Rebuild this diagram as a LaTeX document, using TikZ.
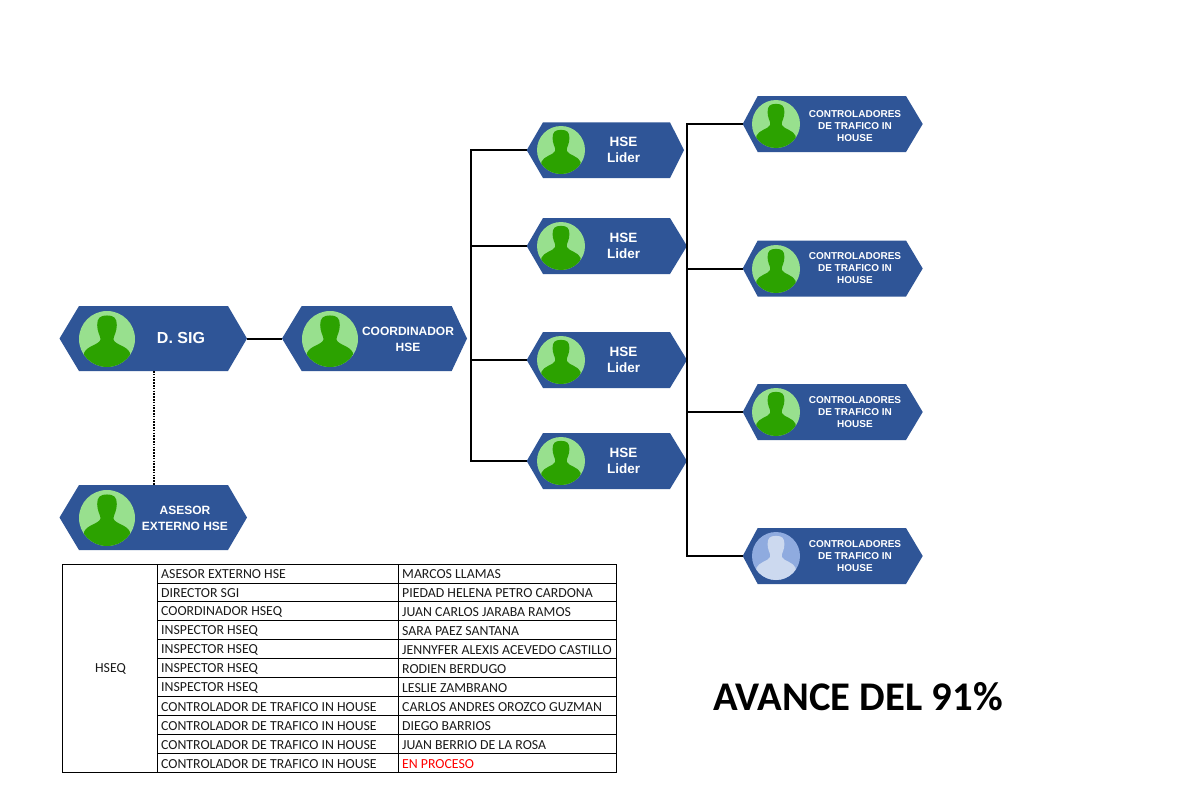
\documentclass[tikz,border=0pt]{standalone}
\usepackage{fontspec}
\setmainfont{Liberation Sans}
\newfontfamily\tabfont{Carlito}
\definecolor{cardblue}{HTML}{2F5597}
\definecolor{disc}{HTML}{98E08E}
\definecolor{figure}{HTML}{2CA200}
\definecolor{discoff}{HTML}{8FABDF}
\definecolor{figureoff}{HTML}{CCD9EF}
\definecolor{tabtext}{HTML}{1A1A1A}
\tikzset{
  cardfill/.style={fill=cardblue,draw=none},
  cardanchor/.style={inner sep=0pt,outer sep=0pt,rectangle,draw=none},
  cardtext/.style={text=white,font=\bfseries,align=center,inner sep=0pt},
  bigtext/.style={cardtext,font=\fontsize{16}{19}\selectfont\bfseries},
  midtext/.style={cardtext,font=\fontsize{12}{16}\selectfont\bfseries},
  lidertext/.style={cardtext,font=\fontsize{13.5}{16}\selectfont\bfseries},
  ctrltext/.style={cardtext,font=\fontsize{10}{11.7}\selectfont\bfseries},
  conn/.style={draw=black,line width=2pt,line join=miter},
  connthin/.style={draw=black,line width=1.5pt,line join=miter},
  dotconn/.style={draw=black,line width=2pt,dash pattern=on 1.6pt off 1.2pt},
  tabline/.style={draw=black,line width=0.9pt},
  tabcell/.style={anchor=west,inner sep=0pt,text=tabtext,font=\tabfont\fontsize{13.8}{15}\selectfont},
  avance/.style={anchor=center,inner sep=0pt,font=\tabfont\fontsize{40.7}{44}\selectfont\bfseries},
}
% name, tipL, topL, topR, tipR, top, bottom
\newcommand{\hexcard}[7]{%
  \pgfmathsetmacro{\hcx}{(#2+#5)/2}\pgfmathsetmacro{\hcy}{(#6+#7)/2}%
  \pgfmathsetmacro{\hcw}{#5-#2}\pgfmathsetmacro{\hch}{#7-#6}%
  \fill[cardfill] (#2,\hcy) -- (#3,#6) -- (#4,#6) -- (#5,\hcy) -- (#4,#7) -- (#3,#7) -- cycle;
  \node[cardanchor,minimum width=\hcw pt,minimum height=\hch pt] (#1) at (\hcx,\hcy) {};
}
% cx, cy, r, disc colour, figure colour
\newcommand{\persona}[5]{%
  \begin{scope}[shift={(#1,#2)},x=#3pt,y=#3pt]
    \fill[#4] (0,0) circle (1);
    \begin{scope}
      \clip (0,0) circle (1);
      \fill[#5] (0,0.84) .. controls (0.26,0.84) and (0.35,0.74) .. (0.35,0.5)
        .. controls (0.35,0.28) and (0.26,0.14) .. (0.24,0.04) -- (0.24,-0.04)
        .. controls (0.3,-0.2) and (0.74,-0.26) .. (0.82,-0.5) -- (0.82,-1.1) -- (-0.82,-1.1) -- (-0.82,-0.5)
        .. controls (-0.74,-0.26) and (-0.3,-0.2) .. (-0.24,-0.04) -- (-0.24,0.04)
        .. controls (-0.26,0.14) and (-0.35,0.28) .. (-0.35,0.5)
        .. controls (-0.35,0.74) and (-0.26,0.84) .. (0,0.84) -- cycle;
    \end{scope}
  \end{scope}
}
\begin{document}
\begin{tikzpicture}[x=1pt,y=-1pt]
\useasboundingbox (0,0) rectangle (1179,806);
\fill[white] (0,0) rectangle (1179,806);

% cards
\hexcard{dsig}{59.5}{79}{228}{247}{306}{371}
\hexcard{coord}{282}{301.7}{451.7}{467}{306}{371}
\hexcard{asesor}{59.5}{79}{228}{247}{485}{550}
\hexcard{hsea}{526.7}{543}{670}{684}{122.3}{178}
\hexcard{hseb}{526.7}{543}{670}{687}{218}{274}
\hexcard{hsec}{526.7}{543}{670}{687}{332}{388}
\hexcard{hsed}{526.7}{543}{670}{687}{433}{489}
\hexcard{ctrla}{742.7}{757.7}{906}{922.7}{96}{152}
\hexcard{ctrlb}{742.7}{757.7}{906}{922.7}{240.5}{296.5}
\hexcard{ctrlc}{742.7}{757.7}{906}{922.7}{384}{440}
\hexcard{ctrld}{742.7}{757.7}{906}{922.7}{528}{584}

% people
\persona{107}{339}{28}{disc}{figure}
\persona{330}{339}{28}{disc}{figure}
\persona{107}{518}{28}{disc}{figure}
\persona{561}{150}{24}{disc}{figure}
\persona{561}{246}{24}{disc}{figure}
\persona{561}{360}{24}{disc}{figure}
\persona{561}{461}{24}{disc}{figure}
\persona{776}{124}{24}{disc}{figure}
\persona{776}{269}{24}{disc}{figure}
\persona{776}{412}{24}{disc}{figure}
\persona{776}{556}{24}{discoff}{figureoff}

% card labels
\node[bigtext] (tdsig) at (181,338) {D. SIG};
\node[midtext] (tcoord) at (408,339) {COORDINADOR\\HSE};
\node[midtext] (tasesor) at (185,518) {ASESOR\\EXTERNO HSE};
\node[lidertext] (thsea) at (623.5,150) {HSE\\Lider};
\node[lidertext] (thseb) at (623.5,246) {HSE\\Lider};
\node[lidertext] (thsec) at (623.5,360) {HSE\\Lider};
\node[lidertext] (thsed) at (623.5,461) {HSE\\Lider};
\node[ctrltext] (tctrla) at (855,126) {CONTROLADORES\\DE TRAFICO IN\\HOUSE};
\node[ctrltext] (tctrlb) at (855,268) {CONTROLADORES\\DE TRAFICO IN\\HOUSE};
\node[ctrltext] (tctrlc) at (855,412) {CONTROLADORES\\DE TRAFICO IN\\HOUSE};
\node[ctrltext] (tctrld) at (855,556) {CONTROLADORES\\DE TRAFICO IN\\HOUSE};

% connectors
\coordinate (trunka) at (471,150);
\coordinate (trunkb) at (687,124);
\draw[conn] (dsig.east) -- (coord.west);
\draw[dotconn] (dsig.south -| 154,0) -- (asesor.north -| 154,0);
\draw[connthin] (hsea.west) -- (trunka |- hsea.west) -- (trunka |- hsed.west) -- (hsed.west);
\draw[connthin] (trunka |- hseb.west) -- (hseb.west);
\draw[connthin] (trunka |- hsec.west) -- (hsec.west);
\draw[conn] (ctrla.west) -- (trunkb |- ctrla.west) -- (trunkb |- ctrld.west) -- (ctrld.west);
\draw[conn] (trunkb |- ctrlb.west) -- (ctrlb.west);
\draw[conn] (trunkb |- ctrlc.west) -- (ctrlc.west);

% table
\draw[tabline] (62,564) rectangle (616,772.5);
\draw[tabline] (157,564) -- (157,772.5);
\draw[tabline] (398,564) -- (398,772.5);
\foreach \i in {1,...,10} \draw[tabline] (157,564+\i*18.95) -- (616,564+\i*18.95);
\node[tabcell,anchor=center] (tabgroup) at (110.5,669) {HSEQ};
\foreach \i/\role/\who in {
  0/ASESOR EXTERNO HSE/MARCOS LLAMAS,
  1/DIRECTOR SGI/PIEDAD HELENA PETRO CARDONA,
  2/COORDINADOR HSEQ/JUAN CARLOS JARABA RAMOS,
  3/INSPECTOR HSEQ/SARA PAEZ SANTANA,
  4/INSPECTOR HSEQ/JENNYFER ALEXIS ACEVEDO CASTILLO,
  5/INSPECTOR HSEQ/RODIEN BERDUGO,
  6/INSPECTOR HSEQ/LESLIE ZAMBRANO,
  7/CONTROLADOR DE TRAFICO IN HOUSE/CARLOS ANDRES OROZCO GUZMAN,
  8/CONTROLADOR DE TRAFICO IN HOUSE/DIEGO BARRIOS,
  9/CONTROLADOR DE TRAFICO IN HOUSE/JUAN BERRIO DE LA ROSA}{
  \node[tabcell] (role\i) at (161,574.2+\i*18.95) {\role};
  \node[tabcell] (who\i) at (402,574.2+\i*18.95) {\who};
}
\node[tabcell] (role10) at (161,763.7) {CONTROLADOR DE TRAFICO IN HOUSE};
\node[tabcell,text=red] (who10) at (402,763.7) {EN PROCESO};

\node[avance] (avance) at (858,697) {AVANCE DEL 91\%};
\end{tikzpicture}
\end{document}
